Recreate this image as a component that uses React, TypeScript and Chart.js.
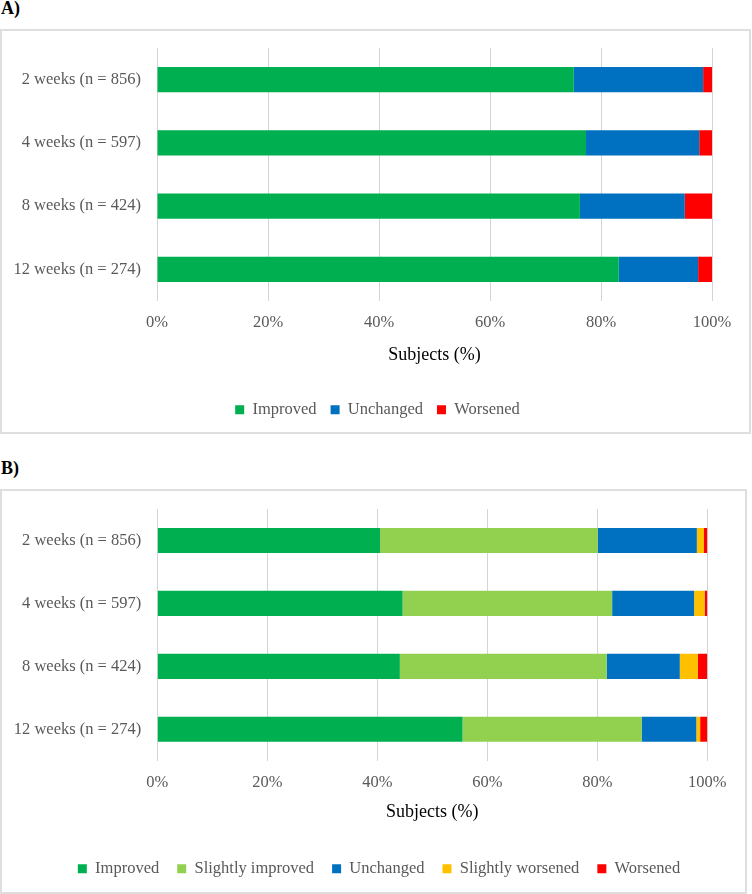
import React, { useEffect, useRef } from 'react';
import { Chart, registerables } from 'chart.js';

Chart.register(...registerables);

const categories = ['2 weeks (n = 856)', '4 weeks (n = 597)', '8 weeks (n = 424)', '12 weeks (n = 274)'];

// Panel A (%)
const aImproved = [75.1, 77.3, 76.2, 83.2];
const aUnchanged = [23.3, 20.4, 18.9, 14.3];
const aWorsened = [1.6, 2.3, 4.9, 2.5];

// Panel B (%)
const bImproved = [40.5, 44.6, 44.1, 55.5];
const bSlightlyImproved = [39.6, 38.1, 37.6, 32.6];
const bUnchanged = [18.0, 14.9, 13.3, 9.9];
const bSlightlyWorsened = [1.3, 1.9, 3.3, 0.7];
const bWorsened = [0.6, 0.5, 1.7, 1.3];

const axisTitle = 'Subjects (%)';

const GREEN = '#00B050';
const LIGHT_GREEN = '#92D050';
const BLUE = '#0070C0';
const YELLOW = '#FFC000';
const RED = '#FF0000';

const FONT = "'Liberation Serif', 'Times New Roman', serif";
const GRAY = '#595959';
const LABEL_SIZE = 16.5;

type Layout = {
  padLeft: number;
  plotLeft: number;
  padTop: number;
  plotRightPad: number;
  padBottom: number;
  xAxisHeight: number;
  titlePadBottom: number;
  legendPad: number;
};

function BarPanel({ datasets, layout, width, height }: { datasets: any[]; layout: Layout; width: number; height: number }) {
  const ref = useRef<HTMLCanvasElement | null>(null);
  useEffect(() => {
    if (!ref.current) return;
    const chart = new Chart(ref.current, {
      type: 'bar',
      data: { labels: categories, datasets },
      options: {
        indexAxis: 'y',
        animation: false,
        responsive: false,
        maintainAspectRatio: false,
        layout: {
          padding: { left: layout.padLeft, top: layout.padTop, right: 0, bottom: layout.padBottom },
        },
        datasets: {
          bar: { categoryPercentage: 1, barPercentage: 0.4, borderWidth: 0 },
        },
        scales: {
          x: {
            stacked: true,
            min: 0,
            max: 100,
            ticks: {
              stepSize: 20,
              callback: (v: any) => v + '%',
              color: GRAY,
              font: { family: FONT, size: LABEL_SIZE },
              padding: 12,
            },
            grid: { color: '#d4d4d4', lineWidth: 1, drawTicks: false },
            border: { display: false },
            title: {
              display: true,
              text: axisTitle,
              color: '#000000',
              font: { family: FONT, size: 18 },
              padding: { top: 0, bottom: layout.titlePadBottom },
            },
            afterFit: (axis: any) => {
              axis.height = layout.xAxisHeight;
              axis.paddingRight = layout.plotRightPad;
            },
          },
          y: {
            stacked: true,
            ticks: {
              color: GRAY,
              font: { family: FONT, size: LABEL_SIZE },
              padding: 16,
            },
            grid: { display: false, drawTicks: false },
            border: { display: false },
            afterFit: (axis: any) => {
              axis.width = layout.plotLeft - layout.padLeft;
              axis.paddingTop = 0;
              axis.paddingBottom = 0;
            },
          },
        },
        plugins: {
          legend: {
            position: 'bottom',
            labels: {
              boxWidth: 9,
              boxHeight: 9,
              padding: layout.legendPad,
              color: GRAY,
              font: { family: FONT, size: LABEL_SIZE },
            },
          },
          tooltip: { enabled: false },
        },
      },
    });
    return () => chart.destroy();
  }, []);
  return <canvas ref={ref} width={width} height={height} style={{ display: 'block', width, height }} />;
}

const headingStyle: React.CSSProperties = {
  position: 'absolute',
  left: 1,
  fontFamily: FONT,
  fontWeight: 'bold',
  fontSize: 18,
  lineHeight: '18px',
  color: '#000',
};

export default function App() {
  const dsA = [
    { label: 'Improved', data: aImproved, backgroundColor: GREEN },
    { label: 'Unchanged', data: aUnchanged, backgroundColor: BLUE },
    { label: 'Worsened', data: aWorsened, backgroundColor: RED },
  ];
  const dsB = [
    { label: 'Improved', data: bImproved, backgroundColor: GREEN },
    { label: 'Slightly improved', data: bSlightlyImproved, backgroundColor: LIGHT_GREEN },
    { label: 'Unchanged', data: bUnchanged, backgroundColor: BLUE },
    { label: 'Slightly worsened', data: bSlightlyWorsened, backgroundColor: YELLOW },
    { label: 'Worsened', data: bWorsened, backgroundColor: RED },
  ];
  return (
    <div style={{ position: 'absolute', left: 0, top: 0, width: 752, height: 894, background: '#fff', overflow: 'hidden' }}>
      <div style={{ ...headingStyle, top: -1 }}>A)</div>
      <div
        style={{
          position: 'absolute',
          left: 0,
          top: 29,
          width: 751,
          height: 405,
          border: '2px solid #dedede',
          boxSizing: 'border-box',
        }}
      >
        <BarPanel
          datasets={dsA}
          width={747}
          height={401}
          layout={{ padLeft: 4, plotLeft: 155, padTop: 17, plotRightPad: 37, padBottom: 4, xAxisHeight: 86.5, titlePadBottom: 21, legendPad: 14 }}
        />
      </div>
      <div style={{ ...headingStyle, top: 459 }}>B)</div>
      <div
        style={{
          position: 'absolute',
          left: 0,
          top: 489,
          width: 747,
          height: 405,
          border: '2px solid #dedede',
          boxSizing: 'border-box',
        }}
      >
        <BarPanel
          datasets={dsB}
          width={743}
          height={401}
          layout={{ padLeft: 11, plotLeft: 155.3, padTop: 18, plotRightPad: 37.7, padBottom: 5, xAxisHeight: 81.8, titlePadBottom: 19.2, legendPad: 18 }}
        />
      </div>
    </div>
  );
}
